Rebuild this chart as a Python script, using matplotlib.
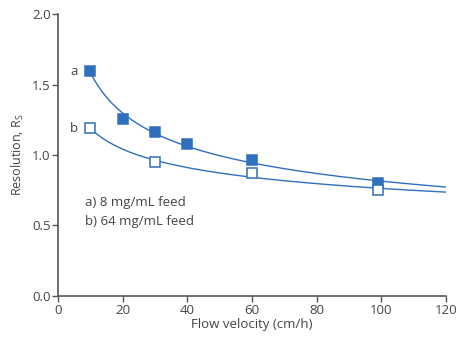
import numpy as np
import matplotlib.pyplot as plt

# Flow velocity (cm/h) and resolution Rs
flow_a = [10, 20, 30, 40, 60, 99]
rs_a = [1.596, 1.255, 1.163, 1.078, 0.965, 0.80]
flow_b = [10, 30, 60, 99]
rs_b = [1.19, 0.95, 0.87, 0.75]

x_ticks = [0, 20, 40, 60, 80, 100, 120]
y_ticks = [0.0, 0.5, 1.0, 1.5, 2.0]

BLUE = '#2f6fbd'
GREY = '#444444'

plt.rcParams['font.family'] = ['Open Sans', 'DejaVu Sans']

fig = plt.figure(figsize=(4.58, 3.37), dpi=100)
ax = fig.add_axes([0.127, 0.122, 0.847, 0.836])


def trend(xs, ys):
	# power-law fit (straight line in log-log), drawn from the first point to 120
	p, c = np.polyfit(np.log(xs), np.log(ys), 1)
	xx = np.linspace(xs[0], 120, 200)
	return xx, np.exp(c) * xx ** p


for xs, ys, face in ((flow_a, rs_a, BLUE), (flow_b, rs_b, 'white')):
	xx, yy = trend(np.array(xs, float), np.array(ys, float))
	ax.plot(xx, yy, color=BLUE, lw=1.0, zorder=2)
	ax.plot(xs, ys, ls='none', marker='s', ms=7, mfc=face, mec=BLUE,
			mew=1.1, zorder=3)

ax.text(5, rs_a[0], 'a', ha='center', va='center', fontsize=9.5, color=GREY)
ax.text(5, rs_b[0], 'b', ha='center', va='center', fontsize=9.5, color=GREY)
ax.text(8.3, 0.66, 'a) 8 mg/mL feed', ha='left', va='center', fontsize=9.5, color=GREY)
ax.text(8.3, 0.525, 'b) 64 mg/mL feed', ha='left', va='center', fontsize=9.5, color=GREY)

ax.set_xlim(0, 120)
ax.set_ylim(0, 2.0)
ax.set_xticks(x_ticks)
ax.set_yticks(y_ticks)
ax.set_yticklabels(['{:.1f}'.format(t) for t in y_ticks])
ax.set_xlabel('Flow velocity (cm/h)', fontsize=9.5, color=GREY, labelpad=1)
ax.set_ylabel('Resolution, R$_\\mathregular{S}$', fontsize=9, color=GREY, labelpad=4)

for side in ('top', 'right'):
	ax.spines[side].set_visible(False)
for side in ('left', 'bottom'):
	ax.spines[side].set_color('#555555')
	ax.spines[side].set_linewidth(1.2)
ax.tick_params(direction='out', length=4, width=1, color='#555555',
			   labelsize=9.5, labelcolor=GREY, pad=1.5)

fig.savefig('out.png', dpi=100)
